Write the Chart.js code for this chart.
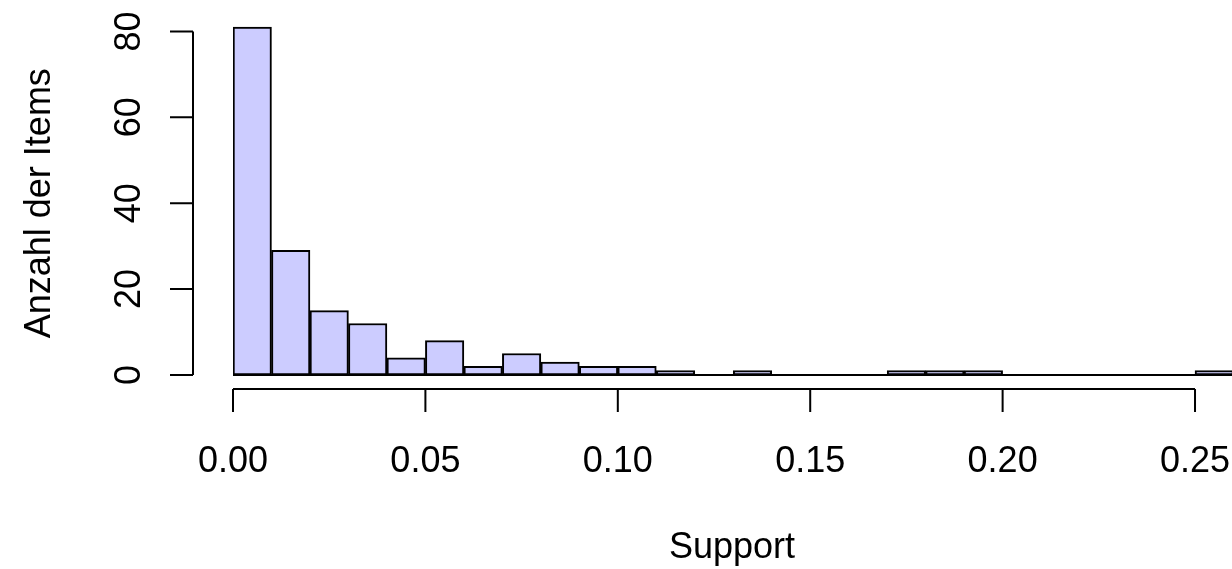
<!DOCTYPE html>
<html>
<head>
<meta charset="utf-8">
<script src="https://cdn.jsdelivr.net/npm/chart.js@4/dist/chart.umd.min.js"></script>
<style>
  html, body { margin: 0; padding: 0; background: #fff; overflow: hidden; }
  #wrap { width: 1232px; height: 569px; overflow: hidden; }
</style>
</head>
<body>
<div id="wrap"><canvas id="chartCanvas" width="1240" height="569"></canvas></div>
<script>
// histogram bins (left edges), width 0.01
const binStarts = [0.00, 0.01, 0.02, 0.03, 0.04, 0.05, 0.06, 0.07, 0.08, 0.09,
                   0.10, 0.11, 0.12, 0.13, 0.14, 0.15, 0.16, 0.17, 0.18, 0.19,
                   0.20, 0.21, 0.22, 0.23, 0.24, 0.25];
const counts = [81, 29, 15, 12, 4, 8, 2, 5, 3, 2,
                2, 1, 0, 1, 0, 0, 0, 1, 1, 1,
                0, 0, 0, 0, 0, 1];
const binWidth = 0.01;
const xTicks = [0.00, 0.05, 0.10, 0.15, 0.20, 0.25];
const yTicks = [0, 20, 40, 60, 80];
const xTitle = "Support";
const yTitle = "Anzahl der Items";

const FONT = '36px "Liberation Sans", Arial, sans-serif';

// R-style axes drawn from the chart's scales
const baseAxes = {
  id: "baseAxes",
  afterDatasetsDraw(chart) {
    const ctx = chart.ctx;
    const xs = chart.scales.x, ys = chart.scales.y;
    const y0 = ys.getPixelForValue(0);
    ctx.save();
    ctx.strokeStyle = "#000";
    ctx.lineWidth = 2;

    // baseline under empty bins
    ctx.beginPath();
    ctx.moveTo(xs.getPixelForValue(binStarts[0]), y0);
    ctx.lineTo(xs.getPixelForValue(binStarts[binStarts.length - 1] + binWidth), y0);
    ctx.stroke();

    // x axis
    const xAxisY = y0 + 14;
    ctx.beginPath();
    ctx.moveTo(xs.getPixelForValue(xTicks[0]), xAxisY);
    ctx.lineTo(xs.getPixelForValue(xTicks[xTicks.length - 1]), xAxisY);
    xTicks.forEach(t => {
      const px = xs.getPixelForValue(t);
      ctx.moveTo(px, xAxisY);
      ctx.lineTo(px, xAxisY + 23);
    });
    ctx.stroke();

    ctx.fillStyle = "#000";
    ctx.font = FONT;
    ctx.textAlign = "center";
    ctx.textBaseline = "alphabetic";
    xTicks.forEach(t => {
      ctx.fillText(t.toFixed(2), xs.getPixelForValue(t), 472);
    });
    ctx.fillText(xTitle, 732, 558);

    // y axis
    const yAxisX = xs.getPixelForValue(0) - 40;
    ctx.beginPath();
    ctx.moveTo(yAxisX, ys.getPixelForValue(yTicks[0]));
    ctx.lineTo(yAxisX, ys.getPixelForValue(yTicks[yTicks.length - 1]));
    yTicks.forEach(t => {
      const py = ys.getPixelForValue(t);
      ctx.moveTo(yAxisX, py);
      ctx.lineTo(yAxisX - 23, py);
    });
    ctx.stroke();

    yTicks.forEach(t => {
      ctx.save();
      ctx.translate(140, ys.getPixelForValue(t));
      ctx.rotate(-Math.PI / 2);
      ctx.fillText(String(t), 0, 0);
      ctx.restore();
    });
    ctx.save();
    ctx.translate(50, (ys.getPixelForValue(0) + ys.getPixelForValue(80)) / 2);
    ctx.rotate(-Math.PI / 2);
    ctx.fillText(yTitle, 0, 0);
    ctx.restore();

    ctx.restore();
  }
};

const ctx = document.getElementById("chartCanvas").getContext("2d");
new Chart(ctx, {
  type: "bar",
  data: {
    datasets: [{
      data: binStarts.map((b, i) => ({ x: b + binWidth / 2, y: counts[i] })),
      backgroundColor: "#CCCCFF",
      borderColor: "#000",
      borderWidth: 2,
      borderSkipped: false,
      barPercentage: 1,
      categoryPercentage: 1
    }]
  },
  options: {
    responsive: false,
    animation: false,
    layout: { padding: { left: 233, right: 6.5, top: 14.2, bottom: 194 } },
    plugins: { legend: { display: false }, tooltip: { enabled: false } },
    scales: {
      x: { type: "linear", min: 0, max: 0.26, offset: false, display: false },
      y: { min: 0, max: 84, display: false }
    }
  },
  plugins: [baseAxes]
});
</script>
</body>
</html>
